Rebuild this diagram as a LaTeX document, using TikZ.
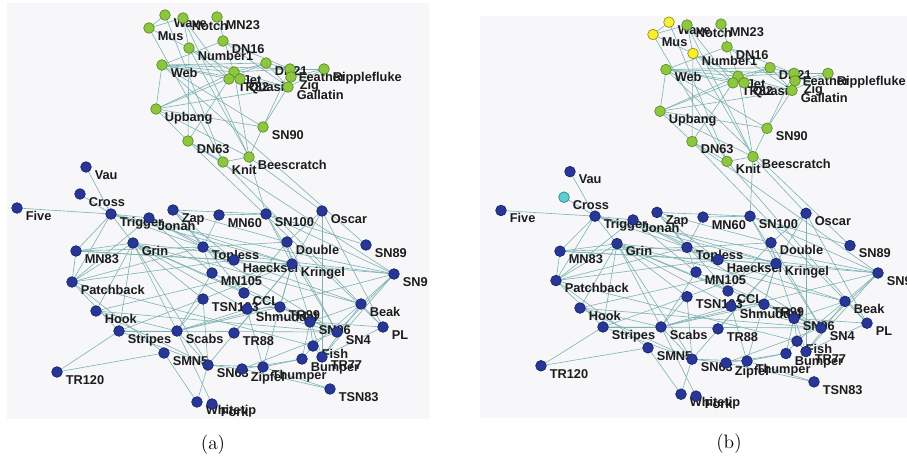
\documentclass[tikz,border=0pt]{standalone}
\usepackage{fontspec}
\newfontfamily\labfont{Liberation Sans}
\pgfdeclarelayer{panelbg}
\pgfdeclarelayer{edges}
\pgfdeclarelayer{labels}
\pgfsetlayers{panelbg,edges,labels,main}

\definecolor{edgec}{RGB}{125,178,178}
\definecolor{greenfill}{RGB}{141,198,63}
\definecolor{greendraw}{RGB}{92,140,32}
\definecolor{bluefill}{RGB}{40,55,150}
\definecolor{bluedraw}{RGB}{24,34,108}
\definecolor{yellowfill}{RGB}{246,240,48}
\definecolor{yellowdraw}{RGB}{150,140,20}
\definecolor{cyanfill}{RGB}{96,204,208}
\definecolor{cyandraw}{RGB}{40,130,140}
\definecolor{panelc}{RGB}{247,247,249}
\definecolor{labc}{RGB}{28,28,28}

\tikzset{
  dot/.style={circle, minimum size=8pt, inner sep=0pt, line width=0.5pt},
  gdot/.style={dot, fill=greenfill, draw=greendraw},
  bdot/.style={dot, fill=bluefill, draw=bluedraw},
  ydot/.style={dot, fill=yellowfill, draw=yellowdraw},
  cdot/.style={dot, fill=cyanfill, draw=cyandraw},
  lab/.style={font=\labfont\bfseries\fontsize{9.6}{10}\selectfont, text=labc,
    inner sep=0pt, anchor=base west},
  link/.style={draw=edgec, line width=0.45pt},
  caption/.style={font=\fontsize{14.5}{16}\selectfont, inner sep=0pt}
}

% name / x / y / upper group / style in (a) / style in (b)
\def\nodelist{
Wave/165/15/1/gdot/ydot, Notch/183/18/1/gdot/gdot, MN23/217/17/1/gdot/gdot,
Mus/149/28/1/gdot/ydot, DN16/223/41/1/gdot/gdot, Number1/189/48/1/gdot/ydot,
Web/162/65/1/gdot/gdot, DN21/266/63/1/gdot/gdot, Feather/290/69/1/gdot/gdot,
Ripplefluke/324/69/1/gdot/gdot, Jet/234/72/1/gdot/gdot, TR82/229/79/1/gdot/gdot,
Quasi/240/79/1/gdot/gdot, Zig/291/77/1/gdot/gdot, Gallatin/288/87/1/gdot/gdot,
Upbang/156/109/1/gdot/gdot, SN90/263/127/1/gdot/gdot, DN63/188/141/1/gdot/gdot,
Knit/223/162/1/gdot/gdot, Beescratch/249/157/1/gdot/gdot,
Vau/86/167/0/bdot/bdot, Cross/80/194/0/bdot/cdot, Five/17/208/0/bdot/bdot,
Trigger/111/214/0/bdot/bdot, Jonah/149/218/0/bdot/bdot, Zap/173/210/0/bdot/bdot,
MN60/219/215/0/bdot/bdot, SN100/266/214/0/bdot/bdot, Oscar/322/211/0/bdot/bdot,
Grin/133/243/0/bdot/bdot, MN83/76/251/0/bdot/bdot, Topless/203/247/0/bdot/bdot,
Double/287/242/0/bdot/bdot, SN89/366/245/0/bdot/bdot, Haecksel/234/260/0/bdot/bdot,
Kringel/292/264/0/bdot/bdot, SN9/394/274/0/bdot/bdot, MN105/212/273/0/bdot/bdot,
Patchback/72/282/0/bdot/bdot, CCL/244/293/0/bdot/bdot, TSN103/203/299/0/bdot/bdot,
Shmuddel/247/309/0/bdot/bdot, TR99/280/307/0/bdot/bdot, SN96/310/322/0/bdot/bdot,
SN4/337/332/0/bdot/bdot, Beak/361/304/0/bdot/bdot, PL/383/327/0/bdot/bdot,
Hook/96/311/0/bdot/bdot, Stripes/119/331/0/bdot/bdot, Scabs/177/331/0/bdot/bdot,
TR88/234/333/0/bdot/bdot, SMN5/164/353/0/bdot/bdot, TR120/57/372/0/bdot/bdot,
SN63/208/365/0/bdot/bdot, Zipfel/242/369/0/bdot/bdot, Thumper/263/367/0/bdot/bdot,
Fish/313/346/0/bdot/bdot, Bumper/302/359/0/bdot/bdot, TR77/322/357/0/bdot/bdot,
TSN83/330/389/0/bdot/bdot, Whitetip/197/402/0/bdot/bdot, Fork/212/404/0/bdot/bdot}

% associations between the animals
\def\edgelist{
Double/CCL, Feather/DN16, Feather/DN21, Fish/Beak, Fish/Bumper, Gallatin/DN16,
Gallatin/DN21, Gallatin/Feather, Grin/Beak, Grin/CCL, Haecksel/Beak, Hook/Grin,
Jet/Beescratch, Jet/DN21, Jet/Feather, Jet/Gallatin, Jonah/Haecksel, Knit/Beescratch,
Knit/DN63, Kringel/Double, Kringel/Hook, Kringel/Jonah, MN105/Jonah, MN23/Jet,
MN83/Grin, MN83/Haecksel, MN83/Kringel, Mus/Knit, Notch/Beescratch, Notch/Mus,
Number1/Beescratch, Number1/DN63, Number1/Jet, Number1/Mus, Number1/Notch,
Oscar/Beescratch, Oscar/Double, Oscar/Kringel, Patchback/Fish, Patchback/Grin,
Patchback/Haecksel, Patchback/Jonah, Patchback/MN83, PL/DN63, PL/Knit, PL/Oscar,
Quasi/Jet, Ripplefluke/Feather, Ripplefluke/Gallatin, Scabs/Fork, Scabs/Grin,
Scabs/Hook, Scabs/MN105, Shmuddel/Grin, Shmuddel/Scabs, SMN5/Patchback,
SN100/Beescratch, SN100/Kringel, SN100/MN60, SN4/Double, SN4/Grin, SN4/Hook,
SN4/MN105, SN4/Shmuddel, SN4/SN100, SN63/Grin, SN63/Hook, SN63/Kringel, SN63/Scabs,
SN89/SN100, SN9/Beak, SN9/DN63, SN9/Grin, SN9/Haecksel, SN9/Scabs, SN9/SN100,
SN9/SN4, SN90/Beescratch, SN90/Feather, SN90/Gallatin, SN96/Beak, SN96/Bumper,
SN96/Fish, SN96/PL, Stripes/Grin, Stripes/Patchback, Stripes/Scabs, Stripes/SN4,
Stripes/SN63, Thumper/Bumper, Thumper/Kringel, Thumper/Shmuddel, Thumper/SN63,
Topless/Double, Topless/Haecksel, Topless/Jonah, Topless/MN105, Topless/MN60,
Topless/MN83, Topless/Patchback, Topless/SN4, TR120/Stripes, TR77/Beak, TR77/Fish,
TR77/Kringel, TR77/Oscar, TR77/PL, TR77/SN9, TR82/DN63, TR82/Jet, TR82/Notch,
TR82/Number1, TR88/Kringel, TR99/Scabs, TR99/Shmuddel, TR99/SN4, TR99/Kringel,
TR99/SN96, Trigger/Five, Trigger/Cross, Trigger/Vau, Trigger/Grin, Trigger/MN83,
Trigger/Patchback, Trigger/Jonah, Trigger/Topless, Trigger/Kringel, Trigger/SN9,
TSN103/Grin, TSN103/Kringel, TSN103/Scabs, TSN103/SN63, TSN103/Stripes,
TSN83/Zipfel, TSN83/Thumper, Upbang/Beescratch, Upbang/DN21, Upbang/DN63,
Upbang/Gallatin, Upbang/SN90, Upbang/Web, Upbang/Jet, Wave/Mus, Wave/Knit,
Web/DN16, Web/DN21, Web/Feather, Web/Gallatin, Web/Jet, Web/SN89, Web/SN90,
Web/TR82, Whitetip/SN63, Whitetip/SMN5, Zap/CCL, Zap/Double, Zap/Haecksel,
Zap/SN100, Zap/Topless, Zig/Ripplefluke, Zipfel/Bumper, Zipfel/SN4, Zipfel/SN63,
TR120/SMN5}

\begin{document}
\begin{tikzpicture}[x=0.75pt, y=-0.75pt]
\useasboundingbox (0,0) rectangle (907,460);

\begin{pgfonlayer}{panelbg}
  \fill[panelc] (7,3) rectangle (429,419);
  \fill[panelc] (480,16) rectangle (907,418);
\end{pgfonlayer}

% dots and names of both panels
\foreach \n/\x/\y/\g/\ca/\cb in \nodelist {
  \pgfmathsetmacro\bx{\x+484+20*\g}
  \pgfmathsetmacro\by{0.947*\y+13.5-5.5*\g}
  \node[\ca] (a-\n) at (\x,\y) {};
  \node[\cb] (b-\n) at (\bx,\by) {};
  \begin{pgfonlayer}{labels}
    \node[lab] (a-\n-name) at (\x+8.5,\y+12.3) {\n};
    \node[lab] (b-\n-name) at (\bx+8.5,\by+12.3) {\n};
  \end{pgfonlayer}
}

\begin{pgfonlayer}{edges}
  \foreach \u/\v in \edgelist {
    \draw[link] (a-\u.center) -- (a-\v.center);
    \draw[link] (b-\u.center) -- (b-\v.center);
  }
\end{pgfonlayer}

\node[caption] (capa) at (213,445) {(a)};
\node[caption] (capb) at (729,444) {(b)};
\end{tikzpicture}
\end{document}
